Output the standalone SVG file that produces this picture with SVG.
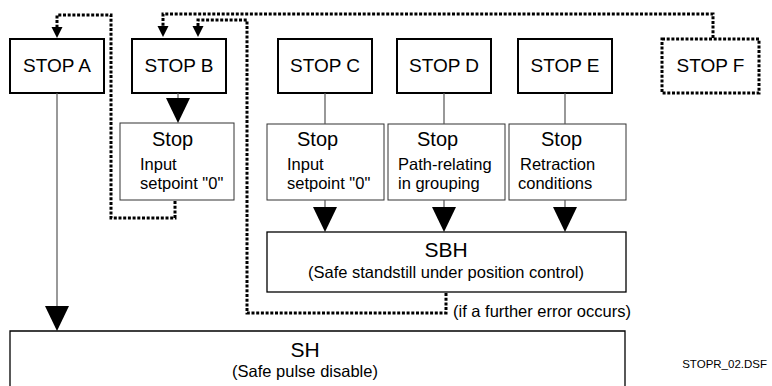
<svg xmlns="http://www.w3.org/2000/svg" width="772" height="386" viewBox="0 0 772 386">
  <defs>
    <style>
      text { font-family: "Liberation Sans", Arial, sans-serif; fill: #000; }
      .stop { fill: #fff; stroke: #000; stroke-width: 2; }
      .sub { fill: #fff; stroke: #333; stroke-width: 1; }
      .state { fill: #fff; stroke: #000; stroke-width: 1.3; }
      .wire { fill: none; stroke: #555; stroke-width: 1.2; }
      .dot { fill: none; stroke: #000; stroke-width: 3; stroke-dasharray: 3 1.7; }
      .lbl { font-size: 19px; text-anchor: middle; }
      .head { font-size: 20px; }
      .note { font-size: 16.5px; }
      .title { font-size: 21px; text-anchor: middle; }
    </style>
    <!-- solid arrowhead, tip at origin -->
    <path id="tri" d="M-12,-25 L12,-25 L0,0 Z" fill="#000"/>
    <!-- small arrowhead for dotted feedback lines -->
    <path id="tri-s" d="M-5.5,-11 L5.5,-11 L0,0 Z" fill="#000"/>
  </defs>

  <!-- stop stages -->
  <g id="stop-a">
    <rect class="stop" x="10" y="39" width="94" height="54"/>
    <text class="lbl" x="57" y="72">STOP A</text>
  </g>
  <g id="stop-b">
    <rect class="stop" x="132" y="39" width="94" height="54"/>
    <text class="lbl" x="179" y="72">STOP B</text>
  </g>
  <g id="stop-c">
    <rect class="stop" x="278" y="39" width="94" height="54"/>
    <text class="lbl" x="325" y="72">STOP C</text>
  </g>
  <g id="stop-d">
    <rect class="stop" x="397" y="39" width="94" height="54"/>
    <text class="lbl" x="444" y="72">STOP D</text>
  </g>
  <g id="stop-e">
    <rect class="stop" x="518" y="39" width="94" height="54"/>
    <text class="lbl" x="565" y="72">STOP E</text>
  </g>
  <g id="stop-f">
    <rect class="dot" x="662" y="39" width="97" height="54"/>
    <text class="lbl" x="710.5" y="72">STOP F</text>
  </g>

  <!-- stop reactions -->
  <g id="react-b">
    <rect class="sub" x="120" y="123" width="114" height="77"/>
    <text class="head" x="152" y="146">Stop</text>
    <text class="note" x="140" y="169.5">Input</text>
    <text class="note" x="140" y="188.5">setpoint "0"</text>
  </g>
  <g id="react-c">
    <rect class="sub" x="267" y="124" width="117" height="76"/>
    <text class="head" x="297" y="146">Stop</text>
    <text class="note" x="287" y="169.5">Input</text>
    <text class="note" x="287" y="188.5">setpoint "0"</text>
  </g>
  <g id="react-d">
    <rect class="sub" x="388" y="124" width="117" height="76"/>
    <text class="head" x="417" y="146">Stop</text>
    <text class="note" x="398" y="169.5">Path-relating</text>
    <text class="note" x="398" y="188.5">in grouping</text>
  </g>
  <g id="react-e">
    <rect class="sub" x="509" y="124" width="117" height="76"/>
    <text class="head" x="541" y="146">Stop</text>
    <text class="note" x="520" y="169.5">Retraction</text>
    <text class="note" x="518" y="188.5">conditions</text>
  </g>

  <!-- safe states -->
  <g id="sbh">
    <rect class="state" x="267" y="232" width="359" height="60"/>
    <text class="title" x="446" y="257">SBH</text>
    <text class="note" x="446" y="278" text-anchor="middle">(Safe standstill under position control)</text>
  </g>
  <g id="sh">
    <path class="state" d="M10,392 V331 H625 V392"/>
    <text class="title" x="305" y="357">SH</text>
    <text class="note" x="305" y="377" text-anchor="middle">(Safe pulse disable)</text>
  </g>

  <!-- connectors -->
  <g id="connectors">
    <path class="wire" d="M57,93 V307"/>
    <use href="#tri" x="57" y="331"/>
    <path class="wire" d="M178,93 V99"/>
    <use href="#tri" x="178" y="123"/>
    <path class="wire" d="M325,93 V124 M444,93 V124 M565,93 V124"/>
    <path class="wire" d="M325,200 V208 M444,200 V208 M565,200 V208"/>
    <use href="#tri" x="325" y="232"/>
    <use href="#tri" x="444" y="232"/>
    <use href="#tri" x="565" y="232"/>

    <!-- dotted feedback paths -->
    <path class="dot" d="M175,201 V218 H111 V15 H57 V28"/>
    <use href="#tri-s" x="57" y="38"/>
    <path class="dot" d="M713,38 V14 H163 V27"/>
    <use href="#tri-s" x="163" y="37"/>
    <path class="dot" d="M446,293 V313 H247 V20 H198 V27"/>
    <use href="#tri-s" x="198" y="37"/>
    <text class="note" x="453" y="317">(if a further error occurs)</text>
  </g>

  <text x="767" y="368" font-size="11.5" text-anchor="end">STOPR_02.DSF</text>
</svg>
